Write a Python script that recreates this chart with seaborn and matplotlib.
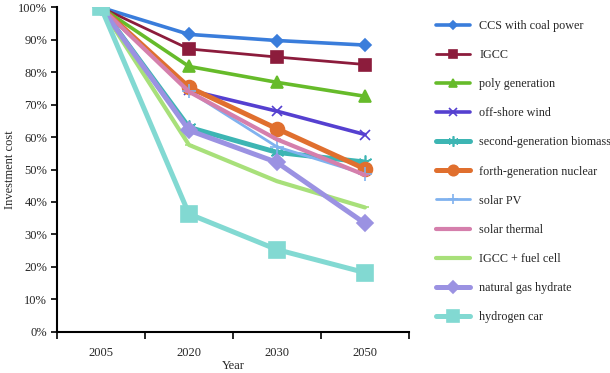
import matplotlib
matplotlib.use("Agg")
import matplotlib.pyplot as plt
import seaborn as sns
import pandas as pd
from matplotlib.ticker import PercentFormatter, FixedLocator, NullFormatter

# data (share of 2005 investment cost, %)
years = ["2005", "2020", "2030", "2050"]
ccs_coal = [100, 91.7, 89.8, 88.4]
igcc = [100, 87.2, 84.7, 82.4]
poly_gen = [100, 81.8, 76.9, 72.6]
offshore_wind = [100, 74.5, 68.0, 60.8]
biomass_2g = [100, 63.0, 55.3, 52.3]
nuclear_4g = [100, 75.4, 62.6, 50.2]
solar_pv = [100, 74.2, 57.0, 48.6]
solar_thermal = [100, 74.0, 59.3, 48.3]
igcc_fuel_cell = [100, 57.6, 46.4, 38.3]
gas_hydrate = [100, 62.1, 52.2, 33.4]
hydrogen_car = [100, 36.3, 25.3, 18.2]

names = ["CCS with coal power", "IGCC", "poly generation", "off-shore wind",
         "second-generation biomass", "forth-generation nuclear", "solar PV",
         "solar thermal", "IGCC + fuel cell", "natural gas hydrate", "hydrogen car"]
series = [ccs_coal, igcc, poly_gen, offshore_wind, biomass_2g, nuclear_4g,
          solar_pv, solar_thermal, igcc_fuel_cell, gas_hydrate, hydrogen_car]

# styles: colour, marker, markersize, linewidth
styles = {
    "CCS with coal power": ("#3a7ddb", "D", 6, 2.6),
    "IGCC": ("#8c1c3c", "s", 8, 2.0),
    "poly generation": ("#66bb2a", "^", 8, 2.6),
    "off-shore wind": ("#5540d0", "x", 7, 2.6),
    "second-generation biomass": ("#3db5b3", (6, 2, 0), 10, 3.6),
    "forth-generation nuclear": ("#e06f2e", "o", 10, 3.6),
    "solar PV": ("#80b2ef", "+", 10, 2.0),
    "solar thermal": ("#d57fac", "_", 6, 3.0),
    "IGCC + fuel cell": ("#a8e07a", "_", 6, 3.0),
    "natural gas hydrate": ("#9b92e2", "D", 8, 3.6),
    "hydrogen car": ("#82d9d2", "s", 11, 3.6),
}

rows = []
for name, vals in zip(names, series):
    for y, v in zip(years, vals):
        rows.append({"Year": y, "cost": v, "tech": name})
df = pd.DataFrame(rows)

sns.set_theme(style="white")
plt.rcParams["font.family"] = ["Liberation Serif", "DejaVu Serif"]

fig = plt.figure(figsize=(6.10, 3.73), dpi=100)
ax = fig.add_axes([0.0934, 0.111, 0.577, 0.869])

# later series are drawn on top, as in the source
for name in names:
    c, m, ms, lw = styles[name]
    sns.lineplot(data=df[df.tech == name], x="Year", y="cost", ax=ax,
                 color=c, marker=m, markersize=ms, linewidth=lw,
                 markeredgecolor=c, markeredgewidth=1.2, label=name,
                 sort=False, errorbar=None)

ax.set_xlim(-0.5, 3.5)
ax.set_ylim(0, 100)
ax.yaxis.set_major_formatter(PercentFormatter(decimals=0))
ax.set_yticks(range(0, 101, 10))
ax.xaxis.set_major_locator(FixedLocator([-0.5, 0.5, 1.5, 2.5, 3.5]))
ax.xaxis.set_major_formatter(NullFormatter())
ax.xaxis.set_minor_locator(FixedLocator([0, 1, 2, 3]))
ax.set_xticklabels(years, minor=True)
ax.tick_params(axis="x", which="major", length=5, width=1.2, direction="out", bottom=True, color="black")
ax.tick_params(axis="x", which="minor", length=0, labelsize=9, pad=11)
ax.tick_params(axis="y", length=4, width=1.2, direction="out", left=True, labelsize=9, pad=3, color="black")

for s in ["top", "right"]:
    ax.spines[s].set_visible(False)
for s in ["left", "bottom"]:
    ax.spines[s].set_color("black")
    ax.spines[s].set_linewidth(1.5)

ax.set_xlabel("Year", fontsize=9)
ax.set_ylabel("Investment cost", fontsize=9)
ax.xaxis.set_label_coords(0.5, -0.088)
ax.yaxis.set_label_coords(-0.117, 0.5)

handles, labels = ax.get_legend_handles_labels()
ax.legend(handles, labels, loc="upper left", bbox_to_anchor=(0.715, 0.947),
          bbox_transform=fig.transFigure, frameon=False, borderpad=0,
          borderaxespad=0, fontsize=8.7, handlelength=2.8, labelspacing=1.42,
          handletextpad=0.78, markerscale=0.75)

fig.savefig("out.png", dpi=100)
